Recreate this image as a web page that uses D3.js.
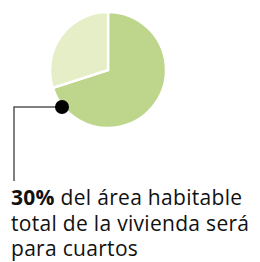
<!DOCTYPE html>
<html>
<head>
<meta charset="utf-8">
<script src="https://cdn.jsdelivr.net/npm/d3@7"></script>
<style>
  body { margin: 0; background: #fff; }
  svg { display: block; }
</style>
</head>
<body>
<div id="chart"></div>
<script>
// data
var slices = ["otros", "cuartos"]
var shares = [70, 30]
var colors = ["#bdd68b", "#e5eec6"]
var labelBold = "30%"
var labelLines = [" del área habitable", "total de la vivienda será", "para cuartos"]

var width = 260, height = 262
var cx = 108, cy = 70, r = 58

var svg = d3.select('#chart').append('svg').attr('width', width).attr('height', height)

var pie = d3.pie().sort(null).value((d) => { return d })
var arc = d3.arc().innerRadius(0).outerRadius(r)
var arcs = pie(shares)

var g = svg.append('g').attr('transform', `translate(${cx}, ${cy})`)
g.selectAll('path')
  .data(arcs)
  .enter()
  .append('path')
  .attr('d', arc)
  .attr('fill', (d, i) => { return colors[i] })
  .attr('stroke', '#fff')
  .attr('stroke-width', 2.5)

// leader from the dot on the pie edge down to the label
var dx = 62, dy = 107
svg.append('path')
  .attr('d', `M${dx},${dy} H14 V181`)
  .attr('fill', 'none')
  .attr('stroke', '#555')
  .attr('stroke-width', 1.5)
svg.append('circle').attr('cx', dx).attr('cy', dy).attr('r', 7).attr('fill', '#000')

var text = svg.append('text')
  .style('font-family', '"Open Sans", sans-serif')
  .style('font-size', '21px')
  .style('letter-spacing', '0.3px')
  .style('fill', '#111')
var first = text.append('tspan').attr('x', 11).attr('y', 205)
first.append('tspan').style('font-weight', 'bold').text(labelBold)
first.append('tspan').text(labelLines[0])
labelLines.slice(1).forEach((line, i) => {
  text.append('tspan').attr('x', 11).attr('y', 205 + (i + 1) * 25.5).text(line)
})
</script>
</body>
</html>
